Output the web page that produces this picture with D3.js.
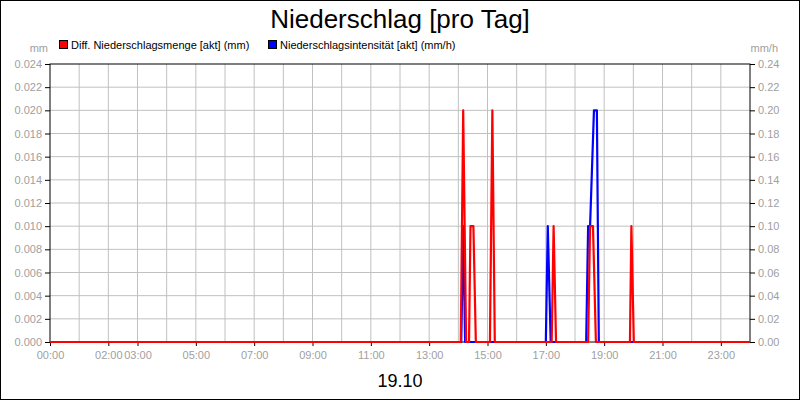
<!DOCTYPE html>
<html><head><meta charset="utf-8">
<script src="https://cdn.jsdelivr.net/npm/d3@7"></script>
<style>
body{margin:0;background:#fff}
text{font-family:Arial,"Liberation Sans",sans-serif}
</style></head>
<body><svg id="chart" width="800" height="400"></svg>
<script>
// minutes since midnight and values
const redTimes = [0, 845, 850, 856, 862, 865, 871, 876, 905, 910, 915, 1032, 1036, 1041, 1107, 1111, 1117, 1123, 1193, 1196, 1201, 1440]
const redValues = [0, 0, 0.02, 0, 0, 0.01, 0.01, 0, 0, 0.02, 0, 0, 0.01, 0, 0, 0.01, 0.01, 0, 0, 0.01, 0, 0]
const blueTimes = [0, 846, 850, 854, 1020, 1024, 1030, 1103, 1107, 1111, 1119, 1125, 1129, 1440]
const blueValues = [0, 0, 0.1, 0, 0, 0.1, 0, 0, 0.1, 0.1, 0.2, 0.2, 0, 0]
const xTickHours = [0, 2, 3, 5, 7, 9, 11, 13, 15, 17, 19, 21, 23]
const leftTicks = d3.range(0, 0.0241, 0.002)
const rightTicks = d3.range(0, 0.241, 0.02)

const svg = d3.select('#chart')
const margin = {left:50, top:64, right:50, bottom:58}
const width = 800, height = 400

svg.append('rect').attr('x',0.5).attr('y',0.5).attr('width',799).attr('height',399)
.attr('fill','#fff').attr('stroke','#000')

const x = d3.scaleLinear().domain([0, 1440]).range([margin.left, width - margin.right])
const yL = d3.scaleLinear().domain([0, 0.024]).range([height - margin.bottom, margin.top])
const yR = d3.scaleLinear().domain([0, 0.24]).range([height - margin.bottom, margin.top])

// grid
svg.append('g').selectAll('line').data(d3.range(1, 24)).enter().append('line')
.attr('x1', d => x(d*60)).attr('x2', d => x(d*60))
.attr('y1', margin.top).attr('y2', height - margin.bottom)
.attr('stroke', '#c0c0c0')
svg.append('g').selectAll('line').data(leftTicks.slice(1, -1)).enter().append('line')
.attr('x1', margin.left).attr('x2', width - margin.right)
.attr('y1', d => yL(d)).attr('y2', d => yL(d))
.attr('stroke', '#c0c0c0')

const grey = '#a0a0a0'
const fmt = (n) => d => d.toFixed(n)

const la = svg.append('g').attr('transform', `translate(${margin.left},0)`)
.call(d3.axisLeft(yL).tickValues(leftTicks).tickFormat(fmt(3)).tickSize(5).tickSizeOuter(0))
const ra = svg.append('g').attr('transform', `translate(${width - margin.right},0)`)
.call(d3.axisRight(yR).tickValues(rightTicks).tickFormat(fmt(2)).tickSize(5).tickSizeOuter(0))
const ba = svg.append('g').attr('transform', `translate(0,${height - margin.bottom})`)
.call(d3.axisBottom(x).tickValues(xTickHours.map(h => h*60))
  .tickFormat(d => String(d/60).padStart(2,'0') + ':00').tickSize(4).tickSizeOuter(0))
;[la, ra, ba].forEach(g => {
  g.selectAll('.domain').remove()
  g.selectAll('line').attr('stroke', '#000')
  g.selectAll('text').attr('fill', grey).style('font-size', '11px')
})
ba.selectAll('text').attr('dy', '0.9em')

svg.append('rect').attr('x', margin.left).attr('y', margin.top)
.attr('width', width - margin.left - margin.right).attr('height', height - margin.top - margin.bottom)
.attr('fill', 'none').attr('stroke', '#000')

const line = (xs, ys, sc) => d3.line().x((d,i) => x(xs[i])).y(d => sc(d))(ys)
svg.append('path').attr('d', line(blueTimes, blueValues, yR)).attr('fill','none')
.attr('stroke','#0000ff').attr('stroke-width',2.2).attr('stroke-linejoin','round')
svg.append('path').attr('d', line(redTimes, redValues, yL)).attr('fill','none')
.attr('stroke','#ff0000').attr('stroke-width',2.2).attr('stroke-linejoin','round')

// texts
svg.append('text').attr('x', 400).attr('y', 28).attr('text-anchor','middle')
.style('font-size','26px').text('Niederschlag [pro Tag]')
svg.append('text').attr('x', 400).attr('y', 387).attr('text-anchor','middle')
.style('font-size','18px').text('19.10')
svg.append('text').attr('x', 48).attr('y', 52).attr('text-anchor','end')
.attr('fill', grey).style('font-size','11px').text('mm')
svg.append('text').attr('x', 778).attr('y', 52).attr('text-anchor','end')
.attr('fill', grey).style('font-size','11px').text('mm/h')

const legend = [['Diff. Niederschlagsmenge [akt] (mm)', '#ff0000', 59], ['Niederschlagsintensität [akt] (mm/h)', '#0000ff', 268]]
legend.forEach(([t, c, lx]) => {
  svg.append('rect').attr('x', lx + 0.5).attr('y', 40.5).attr('width', 8).attr('height', 8)
  .attr('fill', c).attr('stroke', '#000')
  svg.append('text').attr('x', lx + 12).attr('y', 49).style('font-size','11px').text(t)
})
</script></body></html>
